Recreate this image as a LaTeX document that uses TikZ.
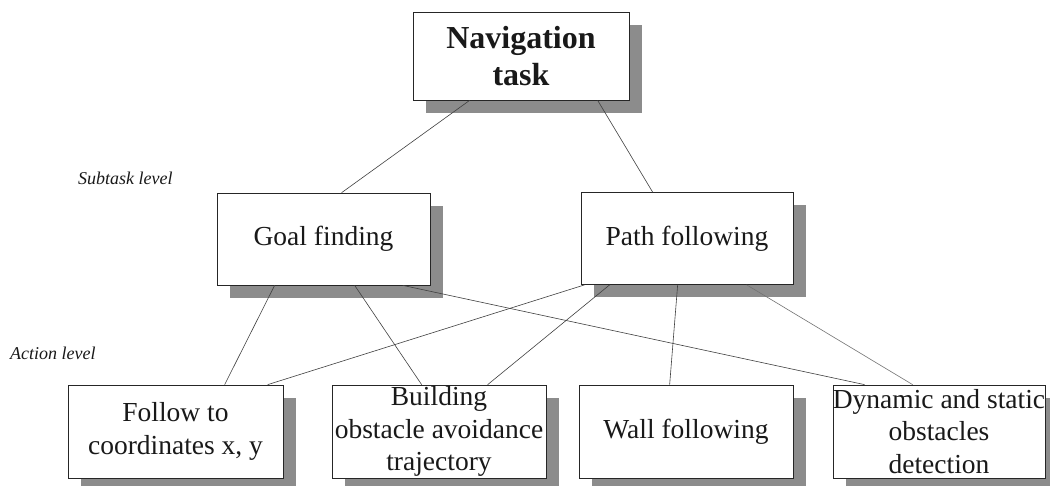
\documentclass[tikz,border=0pt]{standalone}
\usepackage{fontspec}
\setmainfont{Liberation Serif}
\usetikzlibrary{shadows,calc}
\tikzset{
  taskbox/.style={draw=black!85, line width=0.7pt, fill=white, inner sep=0pt, align=center,
    text=black!90, font=\fontsize{27.5}{32.5}\selectfont,
    drop shadow={shadow xshift=13pt, shadow yshift=-13pt, fill=black!45, opacity=1}},
  conn/.style={draw=black!75, line width=0.6pt},
  levellabel/.style={anchor=west, inner sep=0pt, text=black!90, font=\fontsize{18}{20}\selectfont\itshape}
}
\begin{document}
\begin{tikzpicture}[x=1pt,y=-1pt]
\useasboundingbox[fill=white] (0,0) rectangle (1050,486);
% nodes
\node[taskbox, minimum width=216pt, minimum height=88pt, font=\fontsize{32}{37}\selectfont\bfseries] (nav) at (521,56) {Navigation\\task};
\node[taskbox, minimum width=213pt, minimum height=92pt] (goal) at (323.5,239) {Goal finding};
\node[taskbox, minimum width=212pt, minimum height=92pt] (path) at (687,238.5) {Path following};
\node[taskbox, minimum width=215pt, minimum height=93pt] (follow) at (175.5,431.5) {Follow to\\coordinates x, y};
\node[taskbox, minimum width=214pt, minimum height=93pt] (build) at (439,431.5) {Building\\obstacle avoidance\\trajectory};
\node[taskbox, minimum width=214pt, minimum height=93pt] (wall) at (686,431.5) {Wall following};
\node[taskbox, minimum width=212pt, minimum height=93pt] (dyn) at (939,431.5) {\makebox[200pt]{Dynamic and static}\\obstacles\\detection};
% level labels
\node[levellabel] (sublab) at (78,178) {Subtask level};
\node[levellabel] (actlab) at (10,353) {Action level};
% connectors
\draw[conn] ($(nav.south west)+(57,0)$) -- ($(goal.north west)+(125,0)$);
\draw[conn] ($(nav.south west)+(185,0)$) -- ($(path.north west)+(72,0)$);
\draw[conn] ($(goal.south west)+(58,0)$) -- ($(follow.north west)+(157,0)$);
\draw[conn] ($(goal.south west)+(138,0)$) -- ($(build.north west)+(90,0)$);
\draw[conn] ($(goal.south west)+(186,0)$) -- ($(dyn.north west)+(32,0)$);
\draw[conn] ($(path.south west)+(4,0)$) -- ($(follow.north west)+(200,0)$);
\draw[conn] ($(path.south west)+(29,0)$) -- ($(build.north west)+(156,0)$);
\draw[conn] ($(path.south west)+(97,0)$) -- ($(wall.north west)+(91,0)$);
\draw[conn, draw=black!55] ($(path.south west)+(166,0)$) -- ($(dyn.north west)+(80,0)$);
\end{tikzpicture}
\end{document}
